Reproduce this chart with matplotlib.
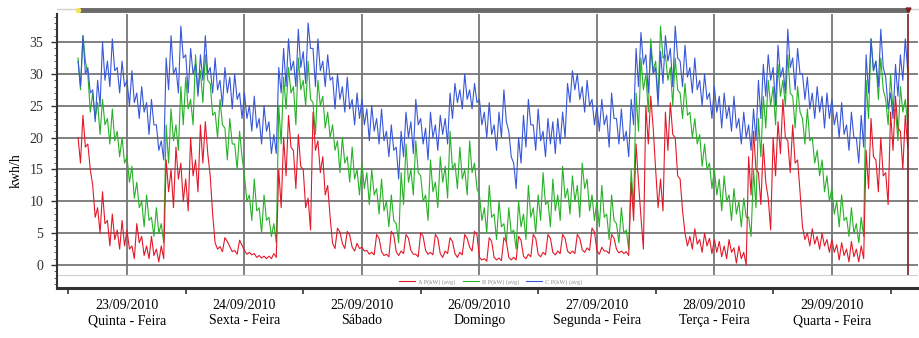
import matplotlib
matplotlib.use('Agg')
import matplotlib.pyplot as plt
import pandas as pd
from matplotlib.lines import Line2D

plt.rcParams['font.family'] = ['Liberation Serif', 'DejaVu Serif']

# hourly readings, 22/09/2010 14:00 -> 29/09/2010 15:00
inicio = '2010-09-22 14:00'

fase_a = [18, 21, 17, 10, 7, 9, 5, 6, 4, 5,
          4, 2, 5, 3, 2, 3, 1.5, 2, 14, 12, 16, 13, 11, 17, 14, 19, 20, 11, 3, 2.5, 4, 2.5, 2, 3.5,
          2, 1.8, 1.5, 1.3, 1.2, 1.2, 1.5, 12, 17, 21, 15, 18, 12, 8, 21, 17, 14, 10, 3, 5.5, 3, 5, 2.5, 3,
          2.5, 2, 1.8, 4.5, 1.8, 1.5, 5, 1.8, 2, 4.5, 2, 1.5, 4.8, 2, 1.8, 4.5, 1.5, 2, 4, 1.5, 1.8, 4.5, 2.5, 5,
          1, 0.8, 4, 1, 0.9, 4, 1, 1, 4.2, 1.2, 1.5, 4.5, 1.5, 1.8, 4.5, 1.8, 2, 4.5, 2, 2, 4.5, 2.2, 2.5, 5.5,
          2, 2.5, 2, 4.5, 2.2, 2, 1.8, 10, 16, 5, 22, 24, 12, 11, 21, 23, 17, 11, 4, 3.5, 4.5, 3, 4, 3,
          3, 2.5, 2, 3, 1.5, 2, 1, 14, 18, 12, 16, 8, 17, 20, 23, 17, 19, 14, 5, 4, 4.5, 3.5, 4, 3,
          3, 2, 2.5, 1.5, 2.5, 1.5, 2, 15, 20, 14, 17, 12, 21, 24, 18, 21]

fase_b = [30, 34, 27, 25, 23, 24, 21, 22, 19, 18,
          15, 13, 11, 8, 9, 6, 7, 5, 19, 22, 20, 25, 27, 24, 30, 28, 31, 26, 22, 24, 19, 21, 17, 19,
          12, 9, 11, 7, 9, 6, 5, 22, 27, 29, 25, 30, 27, 29, 23, 27, 24, 22, 20, 17, 18, 15, 16, 13,
          14, 12, 13, 10, 11, 8, 9, 5, 12, 16, 13, 17, 12, 9, 14, 11, 15, 13, 18, 14, 16, 13, 17, 14,
          9, 7, 10, 6, 8, 5, 7, 4, 8, 6, 10, 7, 9, 12, 8, 11, 9, 13, 10, 12, 10, 14, 11, 9,
          8, 10, 6, 9, 5, 7, 4, 12, 24, 30, 27, 33, 29, 35, 31, 28, 30, 25, 26, 22, 21, 18, 17, 14,
          13, 11, 12, 9, 10, 8, 9, 6, 12, 20, 24, 27, 25, 29, 27, 30, 24, 26, 21, 22, 18, 16, 14, 12,
          10, 8, 9, 6, 7, 5, 6, 26, 33, 29, 30, 24, 27, 22, 26, 24]

fase_c = [30, 33, 29, 25, 27, 32, 30, 33, 29, 30,
          27, 28, 25, 26, 23, 24, 20, 18, 30, 33, 29, 35, 30, 32, 29, 31, 33, 29, 30, 27, 29, 27, 28, 25,
          25, 23, 24, 21, 23, 20, 19, 29, 31, 33, 30, 34, 31, 36, 31, 33, 30, 31, 27, 28, 26, 27, 24, 25,
          24, 22, 23, 21, 22, 19, 20, 16, 19, 22, 20, 24, 21, 19, 22, 20, 22, 21, 25, 27, 26, 28, 26, 27,
          24, 22, 23, 20, 22, 25, 19, 14, 18, 21, 24, 20, 22, 19, 21, 20, 21, 22, 27, 29, 28, 26, 27, 24,
          23, 24, 21, 25, 21, 22, 19, 24, 31, 34, 30, 32, 28, 31, 34, 31, 35, 30, 32, 29, 30, 27, 28, 25,
          26, 24, 25, 23, 24, 21, 22, 20, 22, 26, 29, 31, 28, 32, 29, 34, 30, 32, 28, 27, 25, 26, 24, 25,
          24, 22, 23, 20, 22, 18, 21, 30, 33, 30, 34, 27, 25, 29, 31, 33]

# spread of the fast fluctuation inside each hour (half of the band height)
osc_a = [2, 2.5, 2, 2.5, 2, 2.5, 2, 2, 1.5, 2,
         1.5, 1, 1.5, 1.5, 1, 1.5, 1, 1, 2.5, 3, 2.5, 3, 2.5, 3, 2.5, 3, 2.5, 3, 0.5, 0.4, 0.3, 0.4, 0.3, 0.4,
         0.3, 0.2, 0.3, 0.2, 0.2, 0.2, 0.3, 3, 3, 2.5, 3, 2.5, 3, 2.5, 3, 2.5, 3, 2.5, 0.4, 0.3, 0.4, 0.3, 0.3, 0.4,
         0.3, 0.3, 0.2, 0.3, 0.3, 0.2, 0.3, 0.3, 0.2, 0.3, 0.3, 0.2, 0.3, 0.3, 0.2, 0.3, 0.3, 0.2, 0.3, 0.3, 0.2, 0.3, 0.3, 0.3,
         0.2, 0.2, 0.3, 0.2, 0.2, 0.3, 0.2, 0.2, 0.3, 0.2, 0.2, 0.3, 0.2, 0.2, 0.3, 0.2, 0.2, 0.3, 0.2, 0.2, 0.3, 0.2, 0.2, 0.3,
         0.3, 0.3, 0.2, 0.3, 0.3, 0.2, 0.3, 3, 3, 2.5, 3, 2.5, 3, 2.5, 3, 2.5, 3, 2.5, 1, 1, 1.2, 1, 1, 1.2,
         1, 1.2, 1, 1, 1.2, 1, 1, 3, 3, 2.5, 3, 2.5, 3, 2.5, 3, 2.5, 3, 2.5, 1, 1, 1.2, 1, 1, 1,
         1, 1.2, 1, 1, 1.2, 1, 1, 3, 3, 2.5, 3, 2.5, 3, 2.5, 3, 2.5]

osc_b = [2.5, 2, 3, 2, 2.5, 2, 2, 2.5, 2, 2,
         2, 2.5, 2, 2, 2, 1.5, 2, 1.5, 3, 2.5, 2, 3, 2.5, 2, 3, 2.5, 2, 2.5, 2, 2, 2.5, 2, 2, 2,
         2, 2, 2.5, 2, 2, 1.5, 1.5, 3, 2.5, 2, 3, 2.5, 2, 3, 2.5, 2, 2.5, 2, 2, 2.5, 2, 2, 2.5, 2,
         2, 2.5, 2, 2, 2.5, 2, 2, 1.5, 2.5, 3, 2, 2.5, 2, 2, 2.5, 2, 2, 2.5, 3, 2, 2.5, 2, 2.5, 2,
         2, 2, 2.5, 2, 2, 1.5, 2, 1.5, 2, 2, 2.5, 2, 2, 2.5, 2, 2.5, 2, 2.5, 2, 2, 2.5, 2, 2.5, 2,
         2, 2.5, 2, 2, 1.5, 2, 1.5, 3, 3, 2.5, 3, 2.5, 3, 2.5, 2, 3, 2.5, 2, 2.5, 2, 2, 2.5, 2, 2,
         2, 2.5, 2, 2, 2, 2, 1.5, 1.5, 3, 3, 2.5, 2, 3, 2.5, 2, 3, 2.5, 2, 2, 2.5, 2, 2, 2.5, 2,
         2, 2, 2, 1.5, 2, 1.5, 1.5, 3, 2.5, 3, 2.5, 2, 3, 2.5, 2, 2]

osc_c = [2, 3, 2, 2.5, 2, 3, 2, 2.5, 2, 2,
         2, 2.5, 2, 2, 2.5, 2, 2, 1.5, 2.5, 3, 2, 2.5, 3, 2, 2.5, 2, 3, 2, 2.5, 2, 2, 2.5, 2, 2,
         2, 2, 2.5, 2, 2, 2.5, 1.5, 2, 3, 2.5, 2, 3, 2.5, 2, 3, 2.5, 2, 2, 2.5, 2, 2, 2.5, 2, 2,
         2, 2.5, 2, 2, 2.5, 2, 2, 2.5, 2, 2, 2.5, 2, 2, 2.5, 2, 2, 1.5, 2, 2, 1.5, 1.5, 2, 1.5, 1.5,
         2, 2, 2.5, 2, 2, 2.5, 2, 2, 2, 2.5, 2, 2, 2.5, 2, 2, 2.5, 2, 2, 1.5, 1.5, 2, 2, 2, 2,
         2, 2, 2.5, 2, 2, 2.5, 2, 2, 3, 2.5, 3, 2, 3, 2.5, 2, 3, 2.5, 2, 2.5, 2, 2.5, 2, 2, 2,
         2, 2.5, 2, 2, 2.5, 2, 2, 2, 2.5, 3, 2.5, 2, 3, 2.5, 2, 3, 2.5, 2, 2, 2.5, 2, 2, 2.5, 2,
         2, 2, 2.5, 2, 2, 2, 2.5, 3, 2.5, 2, 3, 2.5, 2, 2.5, 2, 2.5]

dias = ['2010-09-23', '2010-09-24', '2010-09-25', '2010-09-26',
        '2010-09-27', '2010-09-28', '2010-09-29']
dias_semana = ['Quinta - Feira', 'Sexta - Feira', 'Sábado', 'Domingo',
               'Segunda - Feira', 'Terça - Feira', 'Quarta - Feira']
legendas = ['A P(kW) (avg)', 'B P(kW) (avg)', 'C P(kW) (avg)']

vermelho = '#e3192a'
verde = '#27b127'
azul = '#3757d8'
grade = '#767676'

tempo = pd.date_range(inicio, periods=len(fase_a), freq='h')
meia_hora = pd.Timedelta(minutes=30)


def serrilhado(valores, osc):
    # each hour: top of the band, then bottom half an hour later
    xs, ys = [], []
    for t, v, a in zip(tempo, valores, osc):
        xs += [t, t + meia_hora]
        ys += [v + a, v - a]
    return xs, ys


ticks = pd.to_datetime(dias)
meio_dia = ticks - pd.Timedelta(hours=12)
meio_dia = meio_dia.append(pd.DatetimeIndex([ticks[-1] + pd.Timedelta(hours=12)]))

fig = plt.figure(figsize=(9.2, 3.38), dpi=100)
ax = fig.add_axes([57 / 920, 1 - 288 / 338, 861 / 920, 274 / 338])

x0 = pd.Timestamp('2010-09-22 09:42')
x1 = pd.Timestamp('2010-09-29 17:36')
ax.set_xlim(x0, x1)
ax.set_ylim(-3.6, 39.4)

# grid
for v in range(0, 40, 5):
    ax.axhline(v, color=grade, lw=1.3, zorder=1)
ax.vlines(ticks, -1.6, 39.4, color=grade, lw=1.3, zorder=1)
ax.axhline(-1.6, color='#cfcfcf', lw=0.8, zorder=1)

ax.plot(*serrilhado(fase_b, osc_b), color=verde, lw=0.8, zorder=3)
ax.plot(*serrilhado(fase_a, osc_a), color=vermelho, lw=0.8, zorder=4)
ax.plot(*serrilhado(fase_c, osc_c), color=azul, lw=0.8, zorder=5)

# cursor at the last sample and the range bar on top
fim = tempo[-1] + meia_hora
ax.vlines(fim, -1.6, 39.4, color='#7d1d1d', lw=1.2, zorder=6)
ax.plot([x0, x1], [40.2, 40.2], color='#d0d0d0', lw=1, clip_on=False)
ax.plot([tempo[0], fim], [40.0, 40.0], color='#6a6a6a', lw=3.5,
        solid_capstyle='butt', clip_on=False)
ax.plot([tempo[0]], [40.0], marker='o', ms=3, color='#f2e15a', clip_on=False)
ax.plot([fim], [40.0], marker='v', ms=3.5, color='#7d1d1d', clip_on=False)

handles = [Line2D([], [], color=c, lw=0.8) for c in (vermelho, verde, azul)]
ax.legend(handles, legendas, loc='center', bbox_to_anchor=(0.504, 0.022), ncol=3,
          fontsize=4.5, frameon=False, handlelength=2.5, columnspacing=1.2,
          handletextpad=0.5, labelcolor='#8a8a8a', borderpad=0)

ax.set_yticks(range(0, 40, 5))
ax.set_yticks(range(-3, 40), minor=True)
ax.tick_params(axis='y', which='major', length=4, width=1, labelsize=10, pad=6, colors='#333333')
ax.tick_params(axis='y', which='minor', length=2, width=0.6, colors='#444444')
ax.set_xticks(ticks)
ax.set_xticklabels([d.strftime('%d/%m/%Y') + '\n' + s for d, s in zip(ticks, dias_semana)])
ax.set_xticks(meio_dia, minor=True)
ax.tick_params(axis='x', which='major', length=0, labelsize=10, pad=8)
ax.tick_params(axis='x', which='minor', length=4, width=1.2, color='#333333')

ax.set_ylabel('kwh/h', fontsize=10)
ax.yaxis.set_label_coords(-0.04, 0.43)

for s in ('top', 'right'):
    ax.spines[s].set_visible(False)
ax.spines['left'].set_color('#333333')
ax.spines['left'].set_linewidth(1.5)
ax.spines['bottom'].set_color('#333333')
ax.spines['bottom'].set_linewidth(2.2)

fig.savefig('out.png', dpi=100)
